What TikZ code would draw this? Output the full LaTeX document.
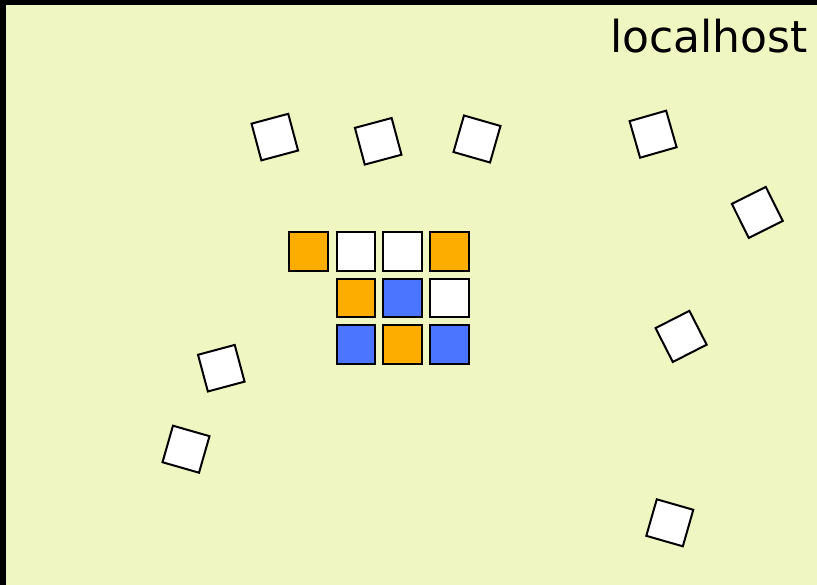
\documentclass[tikz,border=0pt]{standalone}
\usepackage{fontspec}
\newfontfamily\labelfont{DejaVu Sans}
\definecolor{bgyellow}{RGB}{240,246,193}
\definecolor{sqorange}{RGB}{253,172,0}
\definecolor{sqblue}{RGB}{75,116,255}
\tikzset{
  tile/.style={draw=black, line width=2pt, rectangle, minimum size=38.5pt, inner sep=0pt},
  loose/.style={tile, fill=white, minimum size=38pt},
}
\begin{document}
\begin{tikzpicture}[x=1pt,y=-1pt]
\useasboundingbox (0,0) rectangle (817,585);
\fill[bgyellow] (0,0) rectangle (817,585);
\fill[black] (0,0) rectangle (6,585);
\fill[black] (0,0) rectangle (817,5);
\node[anchor=base east, inner sep=0pt, font=\labelfont\fontsize{44}{50}\selectfont] (host) at (808,53) {localhost};
% grid
\node[tile, fill=sqorange] (g11) at (308.5,251.3) {};
\node[tile, fill=white]    (g12) at (356,251.3) {};
\node[tile, fill=white]    (g13) at (402.7,251.3) {};
\node[tile, fill=sqorange] (g14) at (449.3,251.3) {};
\node[tile, fill=sqorange] (g22) at (356,298) {};
\node[tile, fill=sqblue]   (g23) at (402.7,298) {};
\node[tile, fill=white]    (g24) at (449.3,298) {};
\node[tile, fill=sqblue]   (g32) at (356,344.7) {};
\node[tile, fill=sqorange] (g33) at (402.7,344.7) {};
\node[tile, fill=sqblue]   (g34) at (449.3,344.7) {};
% loose tiles
\node[loose, rotate=15]   (a) at (274.8,137.1) {};
\node[loose, rotate=15]   (b) at (378.2,141.3) {};
\node[loose, rotate=-16]  (c) at (477,139) {};
\node[loose, rotate=16]   (d) at (653.1,134.2) {};
\node[loose, rotate=26.5] (e) at (757.3,212.4) {};
\node[loose, rotate=15]   (f) at (221.3,368.2) {};
\node[loose, rotate=-16]  (g) at (186,449.2) {};
\node[loose, rotate=27]   (h) at (681.1,336.4) {};
\node[loose, rotate=-16]  (i) at (669.8,522.8) {};
\end{tikzpicture}
\end{document}
